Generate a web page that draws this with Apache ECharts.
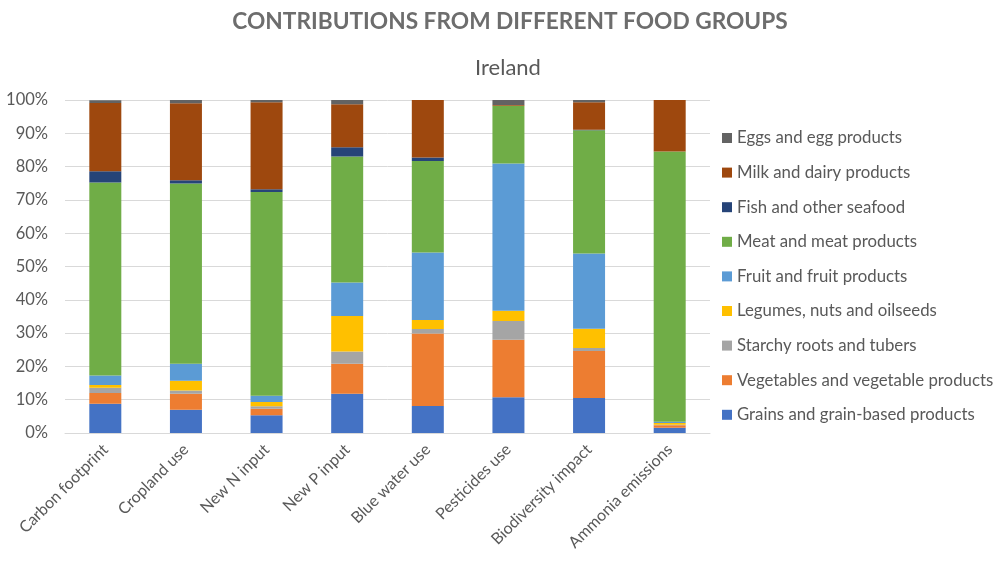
<!DOCTYPE html>
<html>
<head>
<meta charset="utf-8">
<script src="https://cdn.jsdelivr.net/npm/echarts@6/dist/echarts.min.js"></script>
<style>
  html, body { margin: 0; padding: 0; background: #fff; }
  #chart { width: 996px; height: 563px; }
</style>
</head>
<body>
<div id="chart"></div>
<script>
// Indicators along the x axis
const categories = ['Carbon footprint', 'Cropland use', 'New N input', 'New P input',
  'Blue water use', 'Pesticides use', 'Biodiversity impact', 'Ammonia emissions'];

// Share (%) of each food group per indicator, Ireland
const grains     = [8.8, 7.0, 5.3, 11.8, 8.1, 10.7, 10.5, 1.6];
const vegetables = [3.2, 4.8, 2.0, 9.0, 21.8, 17.3, 14.1, 0.7];
const starchy    = [1.6, 1.0, 0.7, 3.7, 1.3, 5.6, 0.9, 0.2];
const legumes    = [0.8, 2.9, 1.3, 10.6, 2.7, 3.1, 5.8, 0.5];
const fruit      = [2.9, 5.1, 1.9, 10.1, 20.3, 44.2, 22.6, 0.4];
const meat       = [57.9, 54.1, 61.2, 37.8, 27.5, 17.4, 37.0, 81.1];
const fish       = [3.4, 1.0, 0.8, 2.8, 1.0, 0.0, 0.2, 0.0];
const milk       = [20.5, 23.1, 26.1, 12.9, 17.3, 0.2, 8.2, 15.5];
const eggs       = [0.8, 1.0, 0.7, 1.3, 0.0, 1.7, 0.8, 0.0];

const yTicks = [0, 10, 20, 30, 40, 50, 60, 70, 80, 90, 100];

const groups = [
  { name: 'Grains and grain-based products', data: grains, color: '#4472C4' },
  { name: 'Vegetables and vegetable products', data: vegetables, color: '#ED7D31' },
  { name: 'Starchy roots and tubers', data: starchy, color: '#A5A5A5' },
  { name: 'Legumes, nuts and oilseeds', data: legumes, color: '#FFC000' },
  { name: 'Fruit and fruit products', data: fruit, color: '#5B9BD5' },
  { name: 'Meat and meat products', data: meat, color: '#70AD47' },
  { name: 'Fish and other seafood', data: fish, color: '#264478' },
  { name: 'Milk and dairy products', data: milk, color: '#9E480E' },
  { name: 'Eggs and egg products', data: eggs, color: '#636363' }
];

const FONT = 'Lato, "Open Sans", sans-serif';
const chart = echarts.init(document.getElementById('chart'), null, { renderer: 'canvas' });

chart.setOption({
  backgroundColor: '#ffffff',
  animation: false,
  title: [
    {
      text: 'CONTRIBUTIONS FROM DIFFERENT FOOD GROUPS',
      left: 505, top: 5, textAlign: 'center',
      textStyle: { fontFamily: FONT, fontSize: 22.7, fontWeight: 'bold', color: '#6d6d6d' }
    },
    {
      text: 'Ireland',
      left: 503, top: 52, textAlign: 'center',
      textStyle: { fontFamily: FONT, fontSize: 22, fontWeight: 'normal', color: '#595959' }
    }
  ],
  legend: {
    orient: 'vertical',
    left: 717, top: 124,
    itemWidth: 10, itemHeight: 10, itemGap: 16.6,
    icon: 'rect',
    data: groups.map(g => g.name).reverse(),
    textStyle: { fontFamily: FONT, fontSize: 16.8, color: '#595959', lineHeight: 18 }
  },
  grid: { left: 65, right: 286, top: 100, bottom: 130, containLabel: false },
  xAxis: {
    type: 'category',
    data: categories,
    axisLine: { show: true, lineStyle: { color: '#d9d9d9' } },
    axisTick: { show: false },
    axisLabel: {
      rotate: 45, interval: 0, margin: 14,
      fontFamily: FONT, fontSize: 16, color: '#595959'
    }
  },
  yAxis: {
    type: 'value',
    min: yTicks[0], max: yTicks[yTicks.length - 1], interval: 10,
    axisLine: { show: false },
    axisTick: { show: false },
    splitLine: { lineStyle: { color: '#d9d9d9', width: 1 } },
    axisLabel: {
      margin: 17,
      fontFamily: FONT, fontSize: 16.5, color: '#595959',
      formatter: v => v + '%'
    }
  },
  series: groups.map(g => ({
    name: g.name,
    type: 'bar',
    stack: 'total',
    barWidth: 32,
    data: g.data,
    itemStyle: { color: g.color }
  }))
});
</script>
</body>
</html>
